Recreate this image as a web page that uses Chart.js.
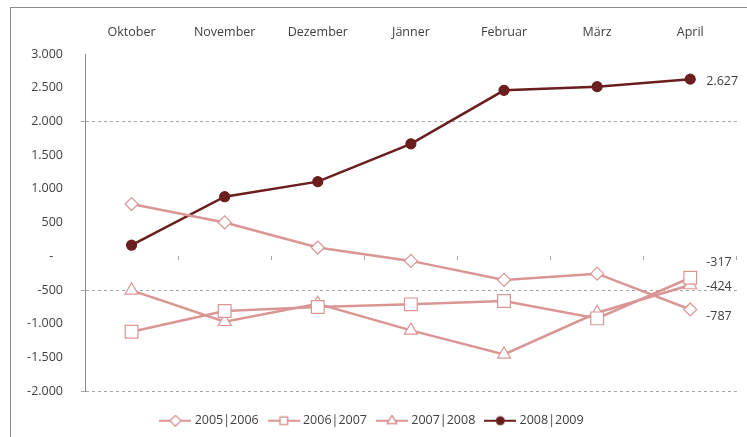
<!DOCTYPE html>
<html>
<head>
<meta charset="utf-8">
<script src="https://cdn.jsdelivr.net/npm/chart.js@4/dist/chart.umd.min.js"></script>
<style>
  html, body { margin: 0; padding: 0; background: #fff; }
  #wrap { width: 747px; height: 437px; }
</style>
</head>
<body>
<div id="wrap"><canvas id="chart" width="747" height="437"></canvas></div>
<script>
// ── Data ─────────────────────────────────────────────
const MONTHS = ['Oktober', 'November', 'Dezember', 'Jänner', 'Februar', 'März', 'April'];
const S_0506 = [776, 503, 131, -67, -349, -256, -787];
const S_0607 = [-1118, -810, -751, -711, -662, -919, -317];
const S_0708 = [-503, -969, -702, -1097, -1454, -836, -424];
const S_0809 = [166, 885, 1108, 1668, 2461, 2516, 2627];
const Y_TICKS = ['-2.000', '-1.500', '-1.000', '-500', '-', '500', '1.000', '1.500', '2.000', '2.500', '3.000'];
const GRID_AT = [2000, -500, -2000];

// ── Style ────────────────────────────────────────────
const PINK = '#d99694';
const DARK = '#6a1e1e';
const TEXT = '#404040';
const FONT = { family: "'Open Sans', 'Noto Sans', sans-serif", size: 12.5 };

// small line+marker swatches for the legend
function swatch(style, color, fill) {
  const c = document.createElement('canvas');
  c.width = 32; c.height = 12;
  const g = c.getContext('2d');
  g.strokeStyle = color; g.lineWidth = 2;
  g.beginPath(); g.moveTo(0, 6); g.lineTo(32, 6); g.stroke();
  Chart.helpers.drawPoint(g, { pointStyle: style, radius: style === 'circle' ? 3.5 : 5, borderWidth: 1 }, 16, 6);
  g.fillStyle = fill; g.fill();
  g.lineWidth = 1; g.stroke();
  return c;
}

function series(label, data, style, radius, color, fill) {
  return {
    label: label,
    data: data,
    borderColor: color,
    backgroundColor: fill,
    borderWidth: 2.5,
    pointStyle: style,
    pointRadius: radius,
    pointHoverRadius: radius,
    pointBorderColor: color,
    pointBackgroundColor: fill,
    pointBorderWidth: 1.2,
    tension: 0,
    legendSwatch: swatch(style, color, fill),
  };
}

// ── Plugins ──────────────────────────────────────────
const frame = {
  id: 'frame',
  beforeDraw(chart) {
    const ctx = chart.ctx;
    ctx.save();
    ctx.fillStyle = '#fff';
    ctx.fillRect(0, 0, chart.width, chart.height);
    ctx.strokeStyle = '#8c8c8c';
    ctx.lineWidth = 1;
    ctx.strokeRect(10.5, 7.5, chart.width + 20, chart.height + 20);
    ctx.restore();
  },
};

// vertical nudges so the end labels don't collide
const LAST_LABEL_DY = [7, -15, 1.5, 2];
const lastLabels = {
  id: 'lastLabels',
  afterDatasetsDraw(chart) {
    const ctx = chart.ctx;
    ctx.save();
    ctx.font = FONT.size + 'px ' + FONT.family;
    ctx.fillStyle = TEXT;
    ctx.textBaseline = 'middle';
    ctx.textAlign = 'left';
    chart.data.datasets.forEach((ds, i) => {
      const meta = chart.getDatasetMeta(i);
      const pt = meta.data[meta.data.length - 1];
      const v = ds.data[ds.data.length - 1];
      ctx.fillText(v.toLocaleString('de-DE'), pt.x + 16, pt.y + LAST_LABEL_DY[i]);
    });
    ctx.restore();
  },
};

// ── Chart ────────────────────────────────────────────
new Chart(document.getElementById('chart'), {
  type: 'line',
  data: {
    labels: MONTHS,
    datasets: [
      series('2005|2006', S_0506, 'rectRot', 6.5, PINK, '#ffffff'),
      series('2006|2007', S_0607, 'rect', 9, PINK, '#ffffff'),
      series('2007|2008', S_0708, 'triangle', 7.5, PINK, '#ffffff'),
      series('2008|2009', S_0809, 'circle', 5, DARK, DARK),
    ],
  },
  options: {
    responsive: false,
    animation: false,
    layout: { padding: { left: 0, right: 1, top: 0, bottom: 0 } },
    plugins: {
      legend: {
        position: 'bottom',
        title: { display: true, text: '', font: { size: 1 }, padding: { top: 10, bottom: 0 } },
        labels: {
          usePointStyle: true,
          pointStyleWidth: 26,
          padding: 12,
          color: TEXT,
          font: FONT,
          generateLabels(chart) {
            return chart.data.datasets.map((ds, i) => ({
              text: ds.label,
              pointStyle: ds.legendSwatch,
              fontColor: TEXT,
              strokeStyle: ds.borderColor,
              fillStyle: ds.backgroundColor,
              lineWidth: 0,
              datasetIndex: i,
              hidden: false,
            }));
          },
        },
      },
      tooltip: { enabled: false },
    },
    scales: {
      x: {
        position: 'top',
        offset: true,
        grid: { display: false },
        border: { display: false },
        ticks: { color: TEXT, font: FONT, padding: 6, maxRotation: 0 },
        afterFit(scale) { scale.height = 54; },
      },
      xZero: {
        axis: 'x',
        type: 'category',
        labels: MONTHS,
        position: { y: 0 },
        offset: true,
        grid: { offset: true, drawOnChartArea: false, tickLength: 4, color: '#a6a6a6' },
        border: { display: false },
        ticks: { display: false },
      },
      y: {
        min: -2000,
        max: 3000,
        border: { display: true, color: '#8c8c8c', width: 1, dash: [3, 3] },
        grid: {
          color: (c) => (c.tick && GRID_AT.includes(c.tick.value) ? '#a6a6a6' : 'rgba(0,0,0,0)'),
          lineWidth: 1,
          tickLength: 4,
        },
        ticks: {
          stepSize: 500,
          color: TEXT,
          font: FONT,
          padding: 18,
          callback: (v) => {
            const label = Y_TICKS[Math.round((v + 2000) / 500)];
            return label === '-' ? '-   ' : label;
          },
        },
        afterFit(scale) { scale.width = 85; },
      },
    },
  },
  plugins: [frame, lastLabels],
});
</script>
</body>
</html>
